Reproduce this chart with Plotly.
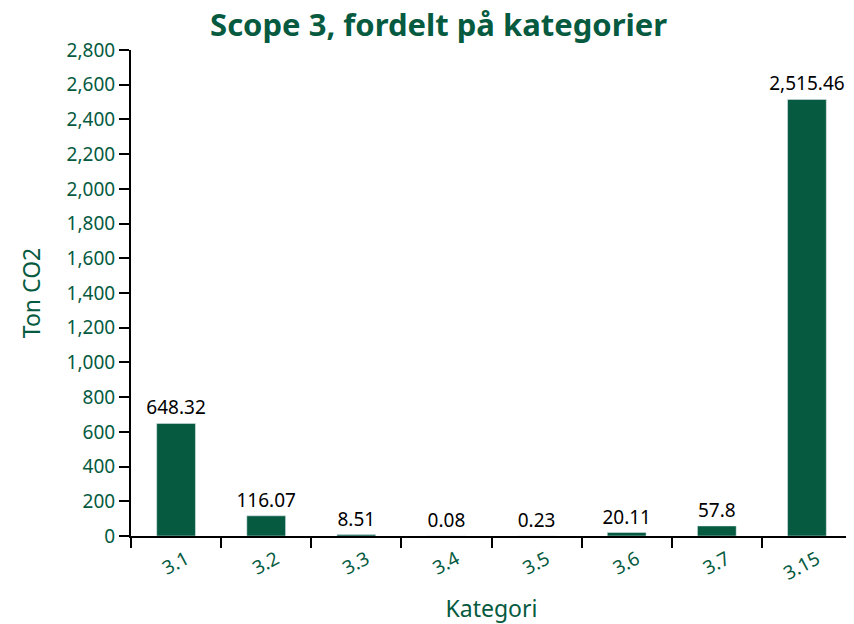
import plotly.graph_objects as go

# Data
kategorier = ['3.1', '3.2', '3.3', '3.4', '3.5', '3.6', '3.7', '3.15']
ton_co2 = [648.32, 116.07, 8.51, 0.08, 0.23, 20.11, 57.8, 2515.46]
etiketter = ['648.32', '116.07', '8.51', '0.08', '0.23', '20.11', '57.8', '2,515.46']

gronn = '#055a40'

fig = go.Figure()
fig.add_trace(go.Bar(
    x=kategorier,
    y=ton_co2,
    text=etiketter,
    textposition='outside',
    constraintext='none',
    textfont=dict(color='black', size=19, family='Noto Sans'),
    marker_color=gronn,
    width=0.43,
    cliponaxis=False,
))

# siden har 8px body-marg, så figuren er 8px mindre og marginene justert
fig.update_layout(
    width=846, height=616,
    margin=dict(l=123, r=2, t=42, b=88, autoexpand=False),
    plot_bgcolor='white',
    paper_bgcolor='white',
    font=dict(family='Noto Sans', color=gronn, size=19),
    title=dict(text='<b>Scope 3, fordelt på kategorier</b>', x=0.509, xanchor='center',
               y=0.99, yanchor='top', pad=dict(t=0, b=0), font=dict(size=31, color=gronn),
               automargin=False),
    showlegend=False,
)
fig.update_xaxes(
    title_text='Kategori', title_standoff=20, automargin=False,
    tickangle=-28, ticklabelshift=10, ticklabelstandoff=3,
    showline=True, linecolor='black', linewidth=2,
    ticks='outside', tickson='boundaries', ticklen=10, tickcolor='black', tickwidth=2,
    tickfont=dict(size=19, color=gronn),
)
fig.update_yaxes(
    title_text='Ton CO2', title_standoff=20, automargin=False,
    range=[0, 2800], dtick=200, tickformat=',',
    showline=True, linecolor='black', linewidth=2, showgrid=False, zeroline=False,
    ticks='outside', ticklen=10, tickcolor='black', tickwidth=2,
    tickfont=dict(size=19, color=gronn),
)

fig.write_html('out.html')
